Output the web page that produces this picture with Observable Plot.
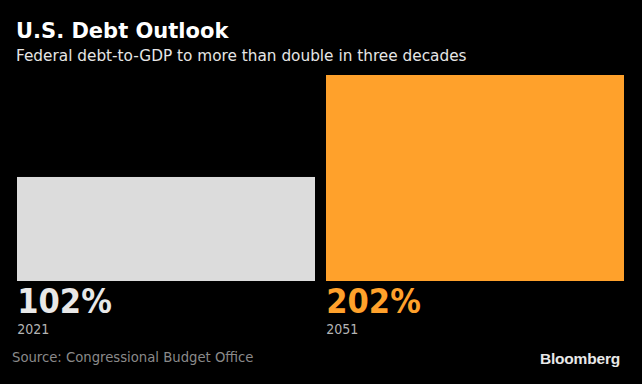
<!DOCTYPE html>
<html>
<head>
<meta charset="utf-8">
<script src="https://cdn.jsdelivr.net/npm/d3@7"></script>
<script src="https://cdn.jsdelivr.net/npm/@observablehq/plot@0.6"></script>
<style>
  html, body { margin: 0; padding: 0; background: #000; }
  #wrap { position: relative; width: 642px; height: 384px; background: #000; overflow: hidden;
          font-family: "DejaVu Sans Condensed", "DejaVu Sans", sans-serif; }
  #wrap svg { position: absolute; left: 0; top: 0; }
  .title { position: absolute; left: 16px; top: 20.5px; color: #fff; font-family: "DejaVu Sans", sans-serif;
           font-weight: bold; font-size: 21px; line-height: 1; white-space: nowrap; }
  .subtitle { position: absolute; left: 16px; top: 48.5px; color: #e6e6e6; font-family: "DejaVu Sans", sans-serif;
              font-size: 15.3px; line-height: 1; white-space: nowrap; }
  .source { position: absolute; left: 12px; top: 350px; color: #8a8a8a; font-size: 14.7px; line-height: 1; white-space: nowrap; }
  .logo { position: absolute; right: 22px; top: 351px; color: #e8e8e8; font-family: "Liberation Sans", Arial, sans-serif;
          font-weight: bold; font-size: 15.5px; line-height: 1; letter-spacing: -0.2px; }
</style>
</head>
<body>
<div id="wrap">
  <div class="title">U.S. Debt Outlook</div>
  <div class="subtitle">Federal debt-to-GDP to more than double in three decades</div>
  <div class="source">Source: Congressional Budget Office</div>
  <div class="logo">Bloomberg</div>
</div>
<script>
const years = ["2021", "2051"];
const debtToGDP = [102, 202];
const barColors = ["#dcdcdc", "#ffa12b"];
const labelColors = ["#e8e8e8", "#ffa12b"];

const data = years.map((y, i) => ({year: y, value: debtToGDP[i], color: barColors[i], labelColor: labelColors[i]}));

const W = 642, H = 384, mL = 16, mR = 18;
const padInner = 0.036;
const bandwidth = (W - mL - mR) / (2 - padInner) * (1 - padInner);

const chart = Plot.plot({
  width: W,
  height: H,
  marginLeft: mL,
  marginRight: mR,
  marginTop: 75,
  marginBottom: 103,
  style: {background: "transparent", fontFamily: "'DejaVu Sans Condensed', 'DejaVu Sans', sans-serif"},
  x: {domain: years, paddingInner: padInner, paddingOuter: 0, axis: null},
  y: {domain: [0, 202], axis: null},
  marks: [
    Plot.barY(data, {x: "year", y: "value", fill: "color"}),
    Plot.text(data, {x: "year", y: 0, text: d => d.value + "%", fill: "labelColor",
      textAnchor: "start", lineAnchor: "bottom", dx: -bandwidth / 2, dy: 31.5,
      fontSize: 34, fontWeight: "bold"}),
    Plot.text(data, {x: "year", y: 0, text: "year", fill: "#b4b4b4",
      textAnchor: "start", lineAnchor: "bottom", dx: -bandwidth / 2, dy: 52,
      fontSize: 14})
  ]
});
document.getElementById("wrap").prepend(chart);
</script>
</body>
</html>
